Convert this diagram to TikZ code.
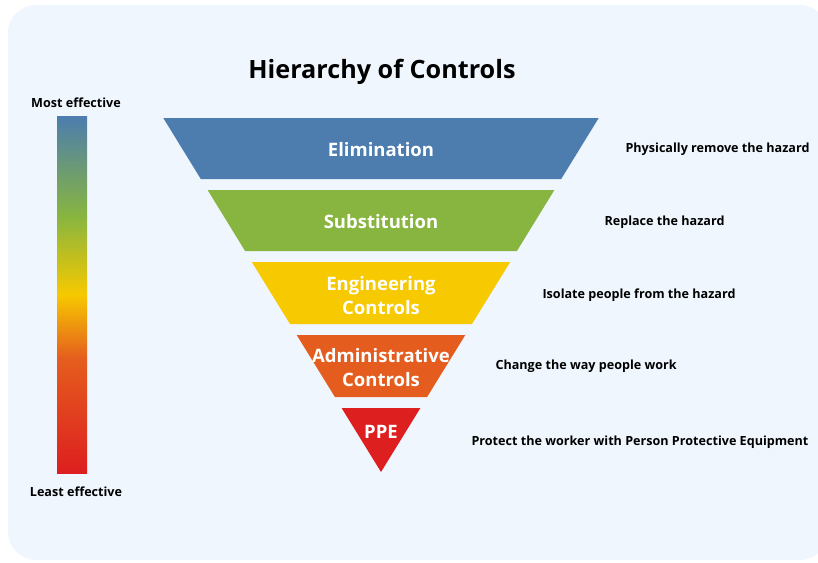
\documentclass[tikz,border=0pt]{standalone}
\usepackage{fontspec}
\setmainfont{Open Sans}
\definecolor{panel}{HTML}{EFF6FD}
\definecolor{elimblue}{HTML}{4C7DAE}
\definecolor{subgreen}{HTML}{88B540}
\definecolor{engyellow}{HTML}{F6C900}
\definecolor{admorange}{HTML}{E55D1E}
\definecolor{ppered}{HTML}{DD1F1F}
\pgfdeclareverticalshading{effbar}{100bp}{color(0bp)=(ppered); color(25bp)=(ppered);
  color(41bp)=(admorange); color(50bp)=(engyellow); color(61bp)=(subgreen);
  color(75bp)=(elimblue); color(100bp)=(elimblue)}
\begin{document}
\begin{tikzpicture}[x=1pt,y=-1pt,
    band/.style={font=\fontsize{18.5}{24}\selectfont\bfseries, text=white, align=center},
    task/.style={font=\fontsize{12.6}{14}\selectfont\bfseries, anchor=west},
    ends/.style={font=\fontsize{12.6}{14}\selectfont\bfseries}]
  \useasboundingbox (0,0) rectangle (818,562);
  \fill[panel,rounded corners=28pt] (8,5) rectangle (828,560);
  \node[font=\fontsize{25.2}{28}\selectfont\bfseries] (title) at (382,72) {Hierarchy of Controls};
  % effectiveness bar
  \shade[shading=effbar] (57,116) rectangle (87,473);
  \node[ends] (most) at (76,103) {Most effective};
  \node[ends] (least) at (76,492) {Least effective};
  % inverted pyramid
  \fill[elimblue] (163.3,118) -- (598.7,118) -- (561.2,179) -- (200.8,179) -- cycle;
  \fill[subgreen] (207.6,190) -- (554.4,190) -- (516.9,251) -- (245.1,251) -- cycle;
  \fill[engyellow] (251.8,262) -- (510.2,262) -- (472.0,324) -- (290.0,324) -- cycle;
  \fill[admorange] (296.7,335) -- (465.3,335) -- (427.1,397) -- (334.9,397) -- cycle;
  \fill[ppered] (341.6,408) -- (420.4,408) -- (381,472) -- cycle;
  \node[band] (elim) at (381,149.5) {Elimination};
  \node[band] (subs) at (381,221.5) {Substitution};
  \node[band] (eng) at (381,296) {Engineering\\Controls};
  \node[band] (adm) at (381,368) {Administrative\\Controls};
  \node[band] (ppe) at (381,432) {PPE};
  % descriptions
  \node[task] (d1) at (622,149.5) {Physically remove the hazard};
  \node[task] (d2) at (601,222.5) {Replace the hazard};
  \node[task] (d3) at (539,295.5) {Isolate people from the hazard};
  \node[task] (d4) at (492,366.5) {Change the way people work};
  \node[task] (d5) at (468,442.5) {Protect the worker with Person Protective Equipment};
\end{tikzpicture}
\end{document}
